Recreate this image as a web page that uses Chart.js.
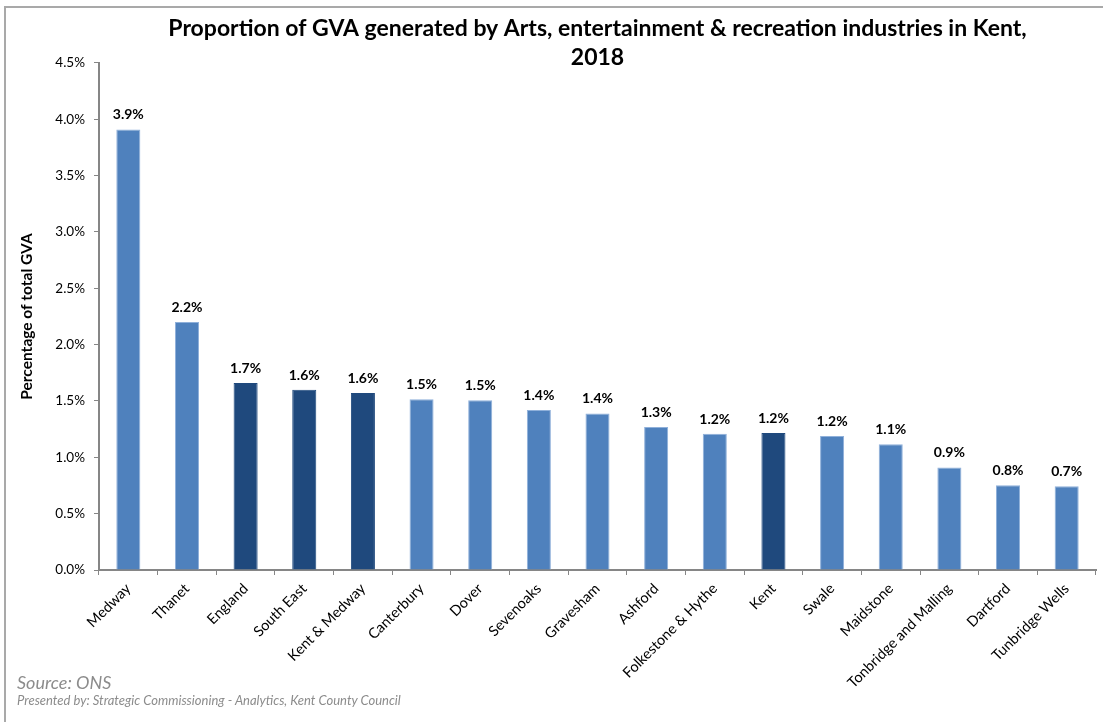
<!DOCTYPE html>
<html>
<head>
<meta charset="utf-8">
<script src="https://cdn.jsdelivr.net/npm/chart.js@4.4.0/dist/chart.umd.min.js"></script>
<style>
  html, body { margin: 0; padding: 0; background: #fff; }
  #wrap { position: relative; width: 1103px; height: 722px; overflow: hidden; }
  #frame { position: absolute; left: 4px; top: 6px; right: -10px; bottom: -10px;
           border-left: 2px solid #a9a9a9; border-top: 2px solid #a9a9a9; }
  #gvaChart { position: absolute; left: 0; top: 0; }
  .note { position: absolute; left: 17px; font-family: Lato, "Liberation Sans", sans-serif;
          font-style: italic; color: #8c8c8c; white-space: nowrap; }
  #source { top: 671px; font-size: 18px; }
  #presented { top: 692px; font-size: 13px; }
</style>
</head>
<body>
<div id="wrap">
  <div id="frame"></div>
  <canvas id="gvaChart" width="1103" height="722"></canvas>
  <div class="note" id="source">Source: ONS</div>
  <div class="note" id="presented">Presented by: Strategic Commissioning - Analytics, Kent County Council</div>
</div>
<script>
// areas, ordered as in the source chart
const areas = ['Medway', 'Thanet', 'England', 'South East', 'Kent & Medway', 'Canterbury', 'Dover',
  'Sevenoaks', 'Gravesham', 'Ashford', 'Folkestone & Hythe', 'Kent', 'Swale', 'Maidstone',
  'Tonbridge and Malling', 'Dartford', 'Tunbridge Wells'];

// % of total GVA from arts, entertainment & recreation (2018)
const gvaShare = [3.91, 2.20, 1.66, 1.60, 1.57, 1.515, 1.506, 1.42, 1.39, 1.27, 1.21, 1.215,
  1.19, 1.115, 0.91, 0.752, 0.744];

// comparator areas shown in the darker colour
const comparators = ['England', 'South East', 'Kent & Medway', 'Kent'];

const yTicks = [0, 0.5, 1, 1.5, 2, 2.5, 3, 3.5, 4, 4.5];

const FONT = 'Lato, "Liberation Sans", sans-serif';

// value labels above each bar
const barLabels = {
  id: 'barLabels',
  afterDatasetsDraw(chart) {
    const ctx = chart.ctx;
    const meta = chart.getDatasetMeta(0);
    ctx.save();
    ctx.font = 'bold 14px ' + FONT;
    ctx.fillStyle = '#000';
    ctx.textAlign = 'center';
    ctx.textBaseline = 'alphabetic';
    meta.data.forEach((bar, i) => {
      ctx.fillText(gvaShare[i].toFixed(1) + '%', bar.x, bar.y - 10);
    });
    ctx.restore();
  }
};

const ctx = document.getElementById('gvaChart').getContext('2d');

const gvaChart = new Chart(ctx, {
  type: 'bar',
  data: {
    labels: areas,
    datasets: [{
      label: 'Proportion of GVA',
      data: gvaShare,
      backgroundColor: areas.map(a => comparators.includes(a) ? '#1f497d' : '#4f81bd'),
      borderColor: areas.map(a => comparators.includes(a) ? '#1f497d' : '#8fb0da'),
      borderWidth: { top: 1, left: 1, right: 1, bottom: 0 },
      barPercentage: 0.41,
      categoryPercentage: 1.0
    }]
  },
  options: {
    responsive: false,
    animation: false,
    layout: { padding: { left: 0, right: 7, top: 0, bottom: 0 } },
    plugins: {
      legend: { display: false },
      tooltip: { enabled: false },
      title: {
        display: true,
        fullSize: false,
        text: ['Proportion of GVA generated by Arts, entertainment & recreation industries in Kent,', '2018'],
        color: '#000',
        font: { family: FONT, size: 23, weight: 'bold', lineHeight: 1.26 },
        padding: { top: 14, bottom: -9 }
      }
    },
    scales: {
      x: {
        grid: {
          display: true,
          drawOnChartArea: false,
          drawTicks: true,
          tickLength: 5,
          color: '#868686',
          offset: true
        },
        border: { display: true, color: '#868686', width: 2 },
        ticks: {
          color: '#000',
          font: { family: FONT, size: 14.5 },
          maxRotation: 45,
          minRotation: 45,
          autoSkip: false,
          padding: 5
        },
        afterFit(scale) { scale.height = 152; }
      },
      y: {
        min: 0,
        max: 4.5,
        afterBuildTicks(scale) { scale.ticks = yTicks.map(v => ({ value: v })); },
        grid: {
          display: true,
          drawOnChartArea: false,
          drawTicks: true,
          tickLength: 5,
          color: '#868686'
        },
        border: { display: true, color: '#868686', width: 2 },
        ticks: {
          color: '#000',
          font: { family: FONT, size: 13.5 },
          padding: 9,
          callback: v => v.toFixed(1) + '%'
        },
        title: {
          display: true,
          text: 'Percentage of total GVA',
          color: '#000',
          font: { family: FONT, size: 15.5, weight: 'bold' },
          padding: { top: 18, bottom: 0 }
        },
        afterFit(scale) { scale.width = 99; }
      }
    }
  },
  plugins: [barLabels]
});
</script>
</body>
</html>
